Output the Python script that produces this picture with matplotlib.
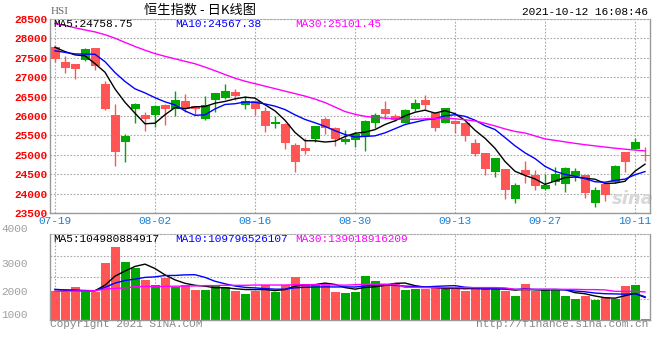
import matplotlib
matplotlib.use("Agg")
import matplotlib.pyplot as plt

# daily data (HSI, 2021-07-19 .. 2021-10-12)
dates = ["07-19", "07-20", "07-21", "07-22", "07-23", "07-26", "07-27", "07-28", "07-29", "07-30",
         "08-02", "08-03", "08-04", "08-05", "08-06", "08-09", "08-10", "08-11", "08-12", "08-13",
         "08-16", "08-17", "08-18", "08-19", "08-20", "08-23", "08-24", "08-25", "08-26", "08-27",
         "08-30", "08-31", "09-01", "09-02", "09-03", "09-06", "09-07", "09-08", "09-09", "09-10",
         "09-13", "09-14", "09-15", "09-16", "09-17", "09-20", "09-21", "09-23", "09-24", "09-27",
         "09-28", "09-29", "09-30", "10-04", "10-05", "10-06", "10-07", "10-08", "10-11", "10-12"]

opens = [27787, 27396, 27337, 27448, 27745, 26827, 26019, 25340, 26190, 26036,
         26036, 26291, 26190, 26394, 26258, 25934, 26419, 26470, 26623, 26275,
         26385, 26138, 25781, 25781, 25254, 25169, 25407, 25934, 25680, 25322,
         25382, 25492, 25832, 26190, 26002, 25824, 26190, 26402, 26087, 25832,
         25883, 25832, 25297, 25042, 24557, 24634, 23852, 24609, 24490, 24107,
         24302, 24260, 24464, 24481, 23750, 24252, 24302, 25067, 25152, 25000]
highs = [27821, 27550, 27350, 27745, 27760, 26895, 26317, 25527, 26342, 26104,
         26291, 26300, 26657, 26564, 26270, 26513, 26600, 26827, 26700, 26513,
         26419, 26232, 26002, 25832, 25297, 25441, 25745, 25977, 25722, 25628,
         25594, 25890, 26087, 26376, 26053, 26170, 26445, 26547, 26095, 26215,
         25890, 25840, 25407, 25050, 24920, 24640, 24277, 24830, 24617, 24507,
         24677, 24685, 24660, 24490, 24175, 24260, 24745, 25075, 25424, 25203]
lows = [27380, 27099, 26955, 27422, 27184, 26147, 24719, 24813, 25832, 25611,
        25713, 25764, 25994, 26104, 26020, 25892, 26104, 26445, 26402, 26172,
        26020, 25594, 25680, 25152, 24557, 25016, 25340, 25527, 25237, 25271,
        25212, 25101, 25680, 25934, 25866, 25807, 26122, 26147, 25611, 25825,
        25552, 25356, 24974, 24490, 24422, 23852, 23750, 24277, 24082, 24100,
        24209, 24031, 24336, 23877, 23665, 23810, 24277, 24557, 25145, 24846]
closes = [27481, 27243, 27209, 27720, 27295, 26172, 25085, 25492, 26317, 25934,
          26249, 26172, 26419, 26172, 26172, 26291, 26597, 26648, 26504, 26385,
          26172, 25739, 25858, 25297, 24813, 25101, 25739, 25697, 25407, 25407,
          25527, 25883, 26019, 26062, 25892, 26164, 26342, 26291, 25680, 26206,
          25781, 25484, 25016, 24643, 24914, 24082, 24218, 24490, 24192, 24209,
          24507, 24660, 24575, 24022, 24090, 23962, 24702, 24813, 25322, 24965]

ma5 = [27770, 27660, 27575, 27550, 27350, 27128, 26696, 26353, 26072, 25800,
       25815, 26033, 26218, 26189, 26237, 26245, 26330, 26376, 26442, 26485,
       26461, 26290, 26132, 25890, 25576, 25362, 25362, 25329, 25351, 25470,
       25555, 25584, 25649, 25780, 25877, 26004, 26096, 26150, 26074, 26137,
       26060, 25888, 25633, 25426, 25168, 24828, 24575, 24469, 24379, 24238,
       24323, 24412, 24429, 24395, 24371, 24262, 24270, 24318, 24578, 24759]
ma10 = [27680, 27640, 27600, 27595, 27590, 27400, 27120, 26890, 26700, 26595,
        26472, 26365, 26286, 26131, 26018, 26030, 26182, 26297, 26316, 26361,
        26353, 26310, 26254, 26166, 26030, 25911, 25826, 25731, 25621, 25523,
        25459, 25473, 25489, 25566, 25673, 25780, 25840, 25899, 25927, 26007,
        26032, 25992, 25892, 25750, 25652, 25444, 25232, 25051, 24903, 24703,
        24576, 24493, 24449, 24387, 24305, 24293, 24341, 24373, 24486, 24567]
ma30 = [28382, 28333, 28274, 28218, 28167, 28095, 28005, 27897, 27792, 27695,
        27608, 27538, 27474, 27410, 27346, 27261, 27167, 27069, 26974, 26897,
        26833, 26769, 26705, 26641, 26577, 26513, 26436, 26346, 26231, 26115,
        26044, 25992, 25961, 25946, 25928, 25910, 25915, 25926, 25941, 25949,
        25928, 25902, 25872, 25813, 25744, 25667, 25602, 25561, 25487, 25410,
        25372, 25333, 25295, 25260, 25230, 25200, 25170, 25145, 25122, 25101]

volume = [2023, 1977, 2138, 2000, 1977, 2977, 3552, 3034, 2805, 2379,
          2207, 2448, 2161, 2207, 2034, 2046, 2184, 2161, 2023, 1908,
          2023, 2207, 1966, 2207, 2494, 2253, 2253, 2230, 1977, 1943,
          1977, 2552, 2345, 2230, 2287, 2034, 2092, 2092, 2172, 2092,
          2092, 2000, 2138, 2092, 2138, 2023, 1828, 2253, 2023, 2092,
          2092, 1828, 1736, 1828, 1701, 1793, 1747, 2172, 2207, 1020]
vol_ma5 = [2060, 2040, 2030, 2020, 2023, 2214, 2529, 2708, 2869, 2949,
           2795, 2575, 2400, 2280, 2211, 2179, 2126, 2126, 2090, 2064,
           2060, 2064, 2025, 2062, 2179, 2225, 2235, 2287, 2241, 2131,
           2076, 2136, 2159, 2209, 2278, 2290, 2198, 2147, 2135, 2096,
           2108, 2090, 2099, 2083, 2092, 2078, 2044, 2067, 2053, 2044,
           2058, 2058, 1954, 1915, 1837, 1777, 1761, 1848, 1924, 1788]
vol_ma10 = [2069, 2050, 2040, 2030, 2020, 2138, 2287, 2379, 2425, 2486,
            2505, 2552, 2554, 2575, 2580, 2487, 2351, 2263, 2185, 2138,
            2120, 2095, 2076, 2076, 2122, 2143, 2150, 2156, 2152, 2155,
            2151, 2185, 2223, 2225, 2205, 2183, 2167, 2153, 2172, 2187,
            2199, 2144, 2123, 2109, 2094, 2093, 2067, 2083, 2068, 2068,
            2068, 2051, 2011, 1984, 1940, 1917, 1909, 1901, 1920, 1812]
vol_ma30 = [2000, 2000, 2010, 2010, 2020, 2080, 2100, 2120, 2160, 2170,
            2170, 2170, 2180, 2180, 2190, 2200, 2200, 2210, 2210, 2210,
            2220, 2220, 2220, 2220, 2230, 2230, 2230, 2230, 2220, 2215,
            2230, 2250, 2250, 2250, 2250, 2140, 2140, 2130, 2130, 2130,
            2130, 2130, 2130, 2130, 2130, 2120, 2070, 2070, 2070, 2070,
            2070, 2070, 2070, 2060, 2060, 2050, 2000, 2000, 2000, 1980]

shown_dates = ["07-19", "08-02", "08-16", "08-30", "09-13", "09-27", "10-11"]
price_ticks = [23500, 24000, 24500, 25000, 25500, 26000, 26500, 27000, 27500, 28000, 28500]
vol_ticks = [1000, 2000, 3000, 4000]
vol_grid = [1750, 2500, 3250]

RED = "#ff5555"
GREEN = "#00a800"
GRID = "#aaaaaa"
MONO = "Liberation Mono"

x = list(range(len(dates)))
colors = [GREEN if c >= o else RED for o, c in zip(opens, closes)]
tick_pos = [dates.index(d) for d in shown_dates]

fig = plt.figure(figsize=(6.6, 3.6), dpi=100)
fig.patch.set_facecolor("white")
ax = fig.add_axes([50 / 660, 147 / 360, 600 / 660, 194 / 360])
axv = fig.add_axes([50 / 660, 40 / 360, 600 / 660, 86 / 360])


def style_panel(a):
    for side in ["left", "bottom", "right"]:
        a.spines[side].set_color("#999999")
        a.spines[side].set_linewidth(1.0)
    a.spines["top"].set_color(GRID)
    a.spines["top"].set_linestyle((0, (1.5, 1.5)))
    a.spines["top"].set_linewidth(0.8)
    a.set_xlim(-0.5, len(dates) - 0.5)
    a.set_xticks(tick_pos)
    a.tick_params(length=0)
    a.set_axisbelow(True)


# ---- candlesticks ----
style_panel(ax)
ax.vlines(x, lows, highs, colors=colors, linewidth=1.0, zorder=2)
body_bottom = [min(o, c) for o, c in zip(opens, closes)]
body_height = [max(abs(c - o), 15) for o, c in zip(opens, closes)]
ax.bar(x, body_height, bottom=body_bottom, width=0.9, color=colors, linewidth=0, zorder=2)
ax.plot(x, ma5, color="black", lw=1.0, zorder=3)
ax.plot(x, ma10, color="#0000ff", lw=1.0, zorder=3)
ax.plot(x, ma30, color="#ff00ff", lw=1.0, zorder=3)

ax.set_ylim(23500, 28500)
ax.set_yticks(price_ticks)
ax.set_yticklabels([str(v) for v in price_ticks], color="#ff0000", fontsize=8,
                   family=MONO, fontweight="bold")
ax.set_xticklabels(shown_dates, color="#1a7fd4", fontsize=8, family=MONO)
ax.tick_params(axis="y", pad=2)
ax.tick_params(axis="x", pad=2)
ax.grid(True, color=GRID, linestyle=(0, (1.5, 1.5)), linewidth=0.8)

ax.text(0.005, 0.974, "MA5:%.2f" % 24758.75, transform=ax.transAxes, color="black",
        fontsize=8, family=MONO, va="center")
ax.text(0.208, 0.974, "MA10:%.2f" % 24567.38, transform=ax.transAxes, color="#0000ff",
        fontsize=8, family=MONO, va="center")
ax.text(0.408, 0.974, "MA30:%.2f" % 25101.45, transform=ax.transAxes, color="#ff00ff",
        fontsize=8, family=MONO, va="center")
ax.text(0.972, 0.07, "sina", transform=ax.transAxes, color="#d8d8d8", fontsize=13,
        fontweight="bold", style="italic", ha="center", va="center", zorder=1)

# ---- volume ----
style_panel(axv)
axv.bar(x, volume, width=0.9, color=colors, linewidth=0, zorder=2)
axv.plot(x, vol_ma5, color="black", lw=1.0, zorder=3)
axv.plot(x, vol_ma10, color="#0000ff", lw=1.0, zorder=3)
axv.plot(x, vol_ma30, color="#ff00ff", lw=1.0, zorder=3)
axv.set_ylim(1000, 4000)
axv.set_yticks(vol_ticks)
labels = axv.set_yticklabels([str(v) for v in vol_ticks], color="#a0a0a0", fontsize=8, family=MONO)
labels[0].set_va("bottom")
labels[-1].set_va("bottom")
axv.tick_params(axis="y", pad=16)
axv.set_yticks(vol_grid, minor=True)
axv.tick_params(which="minor", length=0)
axv.grid(True, which="minor", axis="y", color=GRID, linestyle=(0, (1.5, 1.5)), linewidth=0.8)
axv.grid(True, which="major", axis="x", color=GRID, linestyle=(0, (1.5, 1.5)), linewidth=0.8)
axv.set_xticklabels([])

axv.text(0.005, 0.94, "MA5:104980884917", transform=axv.transAxes, color="black",
         fontsize=8, family=MONO, va="center")
axv.text(0.208, 0.94, "MA10:109796526107", transform=axv.transAxes, color="#0000ff",
         fontsize=8, family=MONO, va="center")
axv.text(0.408, 0.94, "MA30:139018916209", transform=axv.transAxes, color="#ff00ff",
         fontsize=8, family=MONO, va="center")

# ---- header / footer ----
fig.text(51 / 660, 1 - 11 / 360, "HSI", color="#666666", fontsize=8,
         family="Liberation Serif", va="center")
fig.text(200 / 660, 1 - 10 / 360, "恒生指数 - 日K线图", color="black", fontsize=9.5,
         family=["Noto Sans CJK SC", "DejaVu Sans"], ha="center", va="center")
fig.text(648 / 660, 1 - 12 / 360, "2021-10-12 16:08:46", color="black", fontsize=8,
         family=MONO, ha="right", va="center")
fig.text(50 / 660, 1 - 324 / 360, "Copyright 2021 SINA.COM", color="#888888", fontsize=8,
         family=MONO, va="center")
fig.text(648 / 660, 1 - 324 / 360, "http://finance.sina.com.cn", color="#888888", fontsize=8,
         family=MONO, ha="right", va="center")

fig.savefig("out.png", dpi=100, facecolor="white")
